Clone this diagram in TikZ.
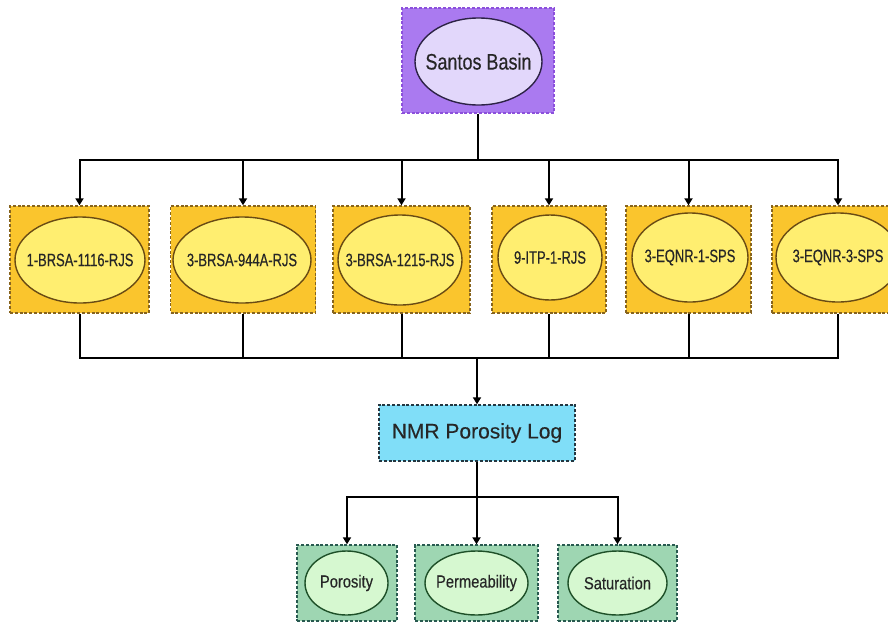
\documentclass[tikz,border=0pt]{standalone}
\usepackage{fontspec}
\setmainfont[FakeBold=0.3]{Liberation Sans}
\newfontfamily\titlefont[FakeStretch=0.8,FakeBold=0.3]{Liberation Sans}
\newfontfamily\wellfont[FakeStretch=0.72,FakeBold=0.3]{Liberation Sans}
\newfontfamily\propfont[FakeStretch=0.84,FakeBold=0.3]{Liberation Sans}
\usetikzlibrary{shapes.geometric,arrows.meta}

\definecolor{basinbox}{RGB}{170,122,240}
\definecolor{basinedge}{RGB}{140,80,220}
\definecolor{basinoval}{RGB}{226,215,251}
\definecolor{basinline}{RGB}{45,35,70}
\definecolor{wellbox}{RGB}{250,197,45}
\definecolor{welledge}{RGB}{135,100,30}
\definecolor{welloval}{RGB}{255,238,112}
\definecolor{wellline}{RGB}{105,75,20}
\definecolor{logbox}{RGB}{128,222,248}
\definecolor{logedge}{RGB}{35,55,65}
\definecolor{propbox}{RGB}{158,214,178}
\definecolor{propedge}{RGB}{40,90,80}
\definecolor{propoval}{RGB}{214,248,208}
\definecolor{propline}{RGB}{30,80,40}

\tikzset{
  framebox/.style={rectangle, line width=1.4pt, dash pattern=on 3pt off 1.8pt, inner sep=0pt},
  oval/.style={ellipse, line width=1.4pt, inner sep=0pt},
  basinframe/.style={framebox, draw=basinedge, fill=basinbox},
  basinoval/.style={oval, draw=basinline, fill=basinoval},
  basintext/.style={font=\titlefont\fontsize{22.5}{24}\selectfont, text=black!85},
  wellframe/.style={framebox, draw=welledge, fill=wellbox, minimum height=107pt},
  wellov/.style={oval, draw=wellline, fill=welloval},
  welltext/.style={font=\wellfont\fontsize{18}{20}\selectfont, text=black!85},
  logframe/.style={framebox, draw=logedge, fill=logbox, font=\fontsize{21}{23}\selectfont, text=black!85},
  propframe/.style={framebox, draw=propedge, fill=propbox, minimum height=76pt},
  propov/.style={oval, draw=propline, fill=propoval, minimum height=64pt},
  proptext/.style={font=\propfont\fontsize{17.5}{19}\selectfont, text=black!85},
  link/.style={draw=black, line width=2pt},
  feed/.style={link, -{Triangle[length=7pt,width=8pt]}}
}

\begin{document}
\begin{tikzpicture}[x=1pt,y=-1pt]
  \clip (0,0) rectangle (888,624);
  \fill[white] (0,0) rectangle (888,624);

  % basin
  \node[basinframe, minimum width=152pt, minimum height=105pt] (basin) at (478,60.5) {};
  \node[basinoval, minimum width=127pt, minimum height=87pt,
        label={[basintext]center:Santos Basin}] (basinov) at (478.5,61.5) {};

  % wells
  \node[wellframe, minimum width=139pt] (w1) at (79.5,259.5) {};
  \node[wellov, minimum width=130pt, minimum height=86pt,
        label={[welltext]center:1-BRSA-1116-RJS}] (w1ov) at (80,260) {};
  \node[wellframe, minimum width=145pt] (w2) at (243,259.5) {};
  \node[wellov, minimum width=138pt, minimum height=86pt,
        label={[welltext]center:3-BRSA-944A-RJS}] (w2ov) at (242,260) {};
  \node[wellframe, minimum width=137pt] (w3) at (401.5,259.5) {};
  \node[wellov, minimum width=124pt, minimum height=90pt,
        label={[welltext]center:3-BRSA-1215-RJS}] (w3ov) at (400,260) {};
  \node[wellframe, minimum width=114pt] (w4) at (549,259.5) {};
  \node[wellov, minimum width=104pt, minimum height=85pt,
        label={[welltext]center:9-ITP-1-RJS}] (w4ov) at (550,257.5) {};
  \node[wellframe, minimum width=125pt] (w5) at (688.5,259.5) {};
  \node[wellov, minimum width=116pt, minimum height=89pt,
        label={[welltext]center:3-EQNR-1-SPS}] (w5ov) at (690,257.5) {};
  \node[wellframe, minimum width=132pt] (w6) at (838,259.5) {};
  \node[wellov, minimum width=124pt, minimum height=89pt,
        label={[welltext]center:3-EQNR-3-SPS}] (w6ov) at (838,257.5) {};

  % log
  \node[logframe, minimum width=196pt, minimum height=56pt] (log) at (477,433) {NMR Porosity Log};

  % properties
  \node[propframe, minimum width=100pt] (p1) at (347,583) {};
  \node[propov, minimum width=83pt,
        label={[proptext]center:Porosity}] (p1ov) at (346.5,583) {};
  \node[propframe, minimum width=123pt] (p2) at (476.5,583) {};
  \node[propov, minimum width=103pt,
        label={[proptext]center:Permeability}] (p2ov) at (476.5,583) {};
  \node[propframe, minimum width=119pt] (p3) at (617.5,583) {};
  \node[propov, minimum width=99pt,
        label={[proptext]center:Saturation}] (p3ov) at (617.5,583) {};

  % bus junctions
  \coordinate (topbus) at (478,160);
  \coordinate (wellbus) at (477,358);
  \coordinate (propbus) at (477,497);

  % basin to wells
  \draw[link] (basin) -- (topbus);
  \foreach \w in {w1,w2,w3,w4,w5,w6}
    \draw[feed] (topbus) -| (\w);

  % wells to log
  \foreach \w in {w1,w2,w3,w4,w5,w6}
    \draw[link] (\w) |- (wellbus);
  \draw[feed] (wellbus) -- (log);

  % log to properties
  \draw[link] (log) -- (propbus);
  \foreach \p in {p1,p2,p3}
    \draw[feed] (propbus) -| (\p);
\end{tikzpicture}
\end{document}
